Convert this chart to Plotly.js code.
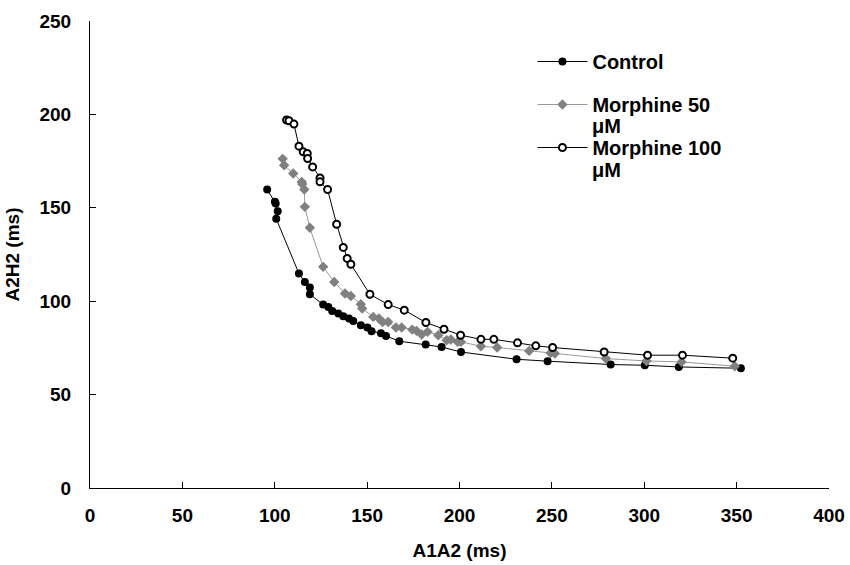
<!DOCTYPE html>
<html>
<head>
<meta charset="utf-8">
<script src="https://cdn.plot.ly/plotly-3.0.1.min.js"></script>
<style>html,body{margin:0;padding:0;background:#fff;}#chart{width:850px;height:565px;}</style>
</head>
<body>
<div id="chart"></div>
<script>
// Control
const controlX = [95.9,100.1,100.5,101.6,100.8,113.1,116.3,119.0,119.0,126.2,129.0,131.1,134.4,137.1,140.2,142.5,146.6,150.1,152.4,157.5,160.2,167.4,181.7,190.3,200.8,230.9,247.7,281.8,300.3,318.7,352.3];
const controlY = [159.8,153.2,152.3,148.2,144.1,114.8,110.3,107.3,103.7,98.2,96.9,94.8,93.4,92.0,90.7,89.4,87.1,85.9,83.9,82.9,81.4,78.6,76.8,75.5,72.8,68.9,67.9,66.1,65.7,64.8,64.1];
// Morphine 50 uM
const m50X = [104.3,105.1,110.0,114.6,114.9,116.0,116.3,119.0,126.2,132.2,138.0,141.2,146.6,147.3,153.3,156.4,158.4,161.4,165.6,168.7,174.4,176.8,179.5,182.7,188.5,193.0,195.3,199.0,200.8,211.6,220.4,237.7,249.3,251.6,279.2,301.2,320.2,349.0];
const m50Y = [176.2,172.8,168.4,163.9,162.7,159.8,150.5,139.3,118.4,110.3,104.1,102.8,98.4,96.1,91.6,90.7,88.9,88.9,85.9,85.9,84.8,84.1,82.2,83.6,81.8,79.1,79.5,78.2,78.2,75.9,75.2,73.4,72.3,72.0,69.3,68.0,67.5,65.2];
// Morphine 100 uM
const m100X = [106.4,107.7,110.4,113.1,115.4,117.6,117.8,120.5,124.5,124.5,128.6,133.5,137.1,139.2,141.2,151.5,161.4,170.1,181.8,191.6,200.6,211.6,218.6,231.4,241.3,250.4,278.3,301.8,320.7,347.9];
const m100Y = [197.0,196.6,194.8,183.0,180.0,179.1,176.4,171.9,166.0,163.9,159.8,141.2,128.8,122.9,119.8,103.7,98.2,95.2,88.6,85.0,81.8,79.6,79.6,77.7,76.1,75.2,72.8,71.1,71.1,69.5];

const seriesNames = ["Control", "Morphine 50", "Morphine 100"];
const unitText = "μM";
const xTickVals = [0,50,100,150,200,250,300,350,400];
const yTickVals = [0,50,100,150,200,250];

const FONT = "Liberation Sans, Arial, sans-serif";

const traces = [
  {
    x: controlX, y: controlY, name: seriesNames[0], legendgroup: "g0", type: "scatter", mode: "lines+markers",
    line: {color: "#000000", width: 1},
    marker: {symbol: "circle", size: 8, color: "#000000"}
  },
  {
    x: m50X, y: m50Y, name: seriesNames[1], legendgroup: "g1", type: "scatter", mode: "lines+markers",
    line: {color: "#999999", width: 1},
    marker: {symbol: "diamond", size: 8, color: "#808080"}
  },
  {
    x: m100X, y: m100Y, name: seriesNames[2], legendgroup: "g2", type: "scatter", mode: "lines+markers",
    line: {color: "#000000", width: 1},
    marker: {symbol: "circle", size: 7, color: "#ffffff", line: {color: "#000000", width: 2}}
  }
];

const legendFont = {family: FONT, size: 20, color: "#000000", weight: "bold"};

const layout = {
  width: 850, height: 565,
  margin: {l: 90, r: 21, t: 21, b: 77},
  paper_bgcolor: "#ffffff", plot_bgcolor: "#ffffff",
  font: {family: FONT, color: "#000000", size: 19},
  showlegend: true,
  legend: {
    x: 0.5987, y: 0.955, xanchor: "left", yanchor: "top",
    bgcolor: "rgba(0,0,0,0)", borderwidth: 0,
    font: legendFont,
    valign: "middle", itemwidth: 50, tracegroupgap: 14,
    traceorder: "grouped"
  },
  annotations: [
    {xref: "paper", yref: "paper", x: 0.6764, y: 0.775, xanchor: "left", yanchor: "middle",
     text: "<b>" + unitText + "</b>", showarrow: false, font: legendFont},
    {xref: "paper", yref: "paper", x: 0.6764, y: 0.680, xanchor: "left", yanchor: "middle",
     text: "<b>" + unitText + "</b>", showarrow: false, font: legendFont}
  ],
  xaxis: {
    range: [0, 400], tickvals: xTickVals, ticktext: xTickVals.map(String),
    showgrid: false, zeroline: false, showline: true, linecolor: "#000000", linewidth: 1,
    ticks: "inside", ticklen: 6, tickcolor: "#000000", tickwidth: 1,
    tickfont: {family: FONT, size: 19, weight: "bold"},
    ticklabelstandoff: 10,
    title: {text: "<b>A1A2 (ms)</b>", font: {family: FONT, size: 19}, standoff: 18}
  },
  yaxis: {
    range: [0, 250], tickvals: yTickVals, ticktext: yTickVals.map(String),
    showgrid: false, zeroline: false, showline: true, linecolor: "#000000", linewidth: 1,
    ticks: "inside", ticklen: 6, tickcolor: "#000000", tickwidth: 1,
    tickfont: {family: FONT, size: 19, weight: "bold"},
    ticklabelstandoff: 14,
    title: {text: "<b>A2H2 (ms)</b>", font: {family: FONT, size: 19}, standoff: 14}
  }
};

Plotly.newPlot("chart", traces, layout, {staticPlot: true, displayModeBar: false});
</script>
</body>
</html>
